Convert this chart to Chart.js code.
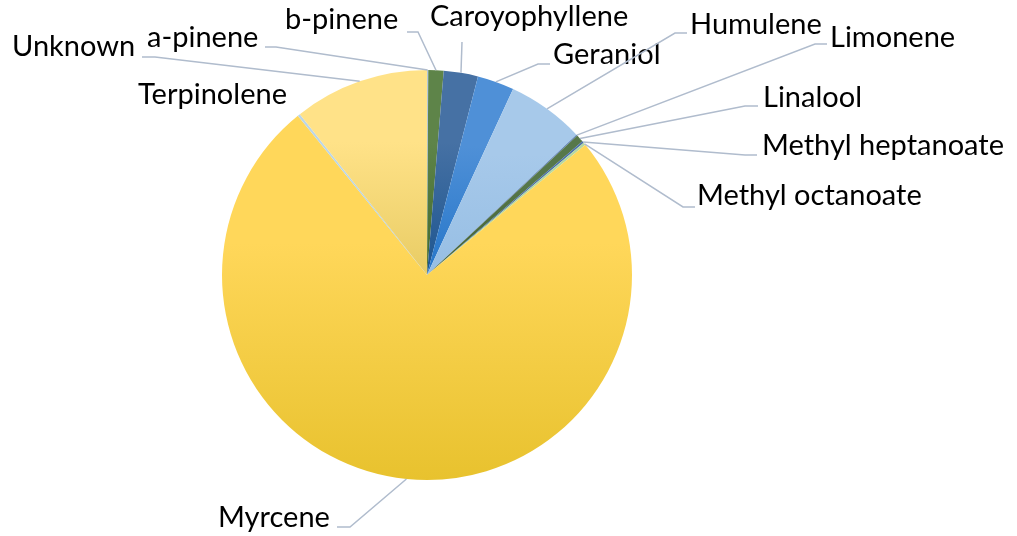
<!DOCTYPE html>
<html lang="en">
<head>
  <meta charset="UTF-8">
  <title>Terpene profile</title>
  <style>
    body { margin: 0; background: #fff; }
    .wrap { width: 1017px; height: 536px; position: relative; }
  </style>
</head>
<body>
  <div class="wrap">
    <canvas id="pie" width="1017" height="536"></canvas>
  </div>
  <script src="https://cdn.jsdelivr.net/npm/chart.js"></script>
  <script>
    // datos del gráfico
    const labels = ['a-pinene', 'b-pinene', 'Caroyophyllene', 'Geraniol', 'Humulene', 'Limonene',
      'Linalool', 'Methyl heptanoate', 'Methyl octanoate', 'Myrcene', 'Terpinolene', 'Unknown'];
    const values = [0.1, 1.2, 2.7, 2.9, 6.1, 0.1, 0.6, 0.15, 0.2, 75.1, 0.2, 10.65];

    // colores (arriba claro, abajo oscuro)
    const lightColors = ['#b4c7dc', '#5e8449', '#4671a4', '#4f90d7', '#a7c9ea', '#5b7fb5',
      '#56774a', '#4a6fa8', '#b5d7a0', '#ffd75a', '#bcd6e6', '#ffe288'];
    const darkColors = ['#9fb6cf', '#43692c', '#1d558f', '#2676c9', '#96bee4', '#3d63a0',
      '#3f5f2e', '#2f5591', '#a3cc88', '#e8c22e', '#a9c8de', '#e8cc64'];

    // posición de etiquetas: texto (x izq, y medio), codo y fin horizontal de la guía
    const labelLayout = [
      { tx: 147, ty: 38, ex: 276, ey: 47, hx: 265 },
      { tx: 285, ty: 20, ex: 418, ey: 32, hx: 407 },
      { tx: 430, ty: 17, ex: 462, ey: 42, hx: 462 },
      { tx: 553, ty: 55, ex: 538, ey: 64, hx: 550 },
      { tx: 690, ty: 25, ex: 675, ey: 33, hx: 687 },
      { tx: 830, ty: 38, ex: 815, ey: 44, hx: 827 },
      { tx: 763, ty: 98, ex: 745, ey: 106, hx: 758 },
      { tx: 762, ty: 146, ex: 745, ey: 155, hx: 757 },
      { tx: 697, ty: 196, ex: 683, ey: 207, hx: 695 },
      { tx: 218, ty: 518, ex: 350, ey: 527, hx: 337 },
      { tx: 138, ty: 95, ex: null },
      { tx: 12, ty: 47, ex: 155, ey: 57, hx: 142 }
    ];

    const total = values.reduce((a, b) => a + b, 0);

    // extensión vertical de cada porción (fracción de -1 a 1 del radio)
    function sliceExtent(i) {
      let cum = 0;
      for (let k = 0; k < i; k++) cum += values[k];
      const a0 = cum / total * Math.PI * 2;
      const a1 = (cum + values[i]) / total * Math.PI * 2;
      let minY = 0, maxY = 0;
      for (let s = 0; s <= 40; s++) {
        const a = a0 + (a1 - a0) * s / 40;
        const y = -Math.cos(a);
        minY = Math.min(minY, y);
        maxY = Math.max(maxY, y);
      }
      return [minY, maxY];
    }

    function sliceFill(ctx) {
      const i = ctx.dataIndex;
      const area = ctx.chart.chartArea;
      if (!area) return lightColors[i];
      const cy = (area.top + area.bottom) / 2;
      const r = Math.min(area.width, area.height) / 2;
      const [y0, y1] = sliceExtent(i);
      const g = ctx.chart.ctx.createLinearGradient(0, cy + y0 * r, 0, cy + y1 * r);
      g.addColorStop(0, lightColors[i]);
      g.addColorStop(0.35, lightColors[i]);
      g.addColorStop(1, darkColors[i]);
      return g;
    }

    const leaderLabels = {
      id: 'leaderLabels',
      afterDatasetsDraw(chart) {
        const c = chart.ctx;
        const arcs = chart.getDatasetMeta(0).data;
        c.save();
        c.font = '29px Lato, "Open Sans", sans-serif';
        c.fillStyle = '#000';
        c.textBaseline = 'middle';
        c.textAlign = 'left';
        arcs.forEach((arc, i) => {
          const L = labelLayout[i];
          if (L.ex !== null) {
            const mid = (arc.startAngle + arc.endAngle) / 2;
            const px = arc.x + Math.cos(mid) * arc.outerRadius;
            const py = arc.y + Math.sin(mid) * arc.outerRadius;
            c.strokeStyle = '#b0bccd';
            c.lineWidth = 1.5;
            c.beginPath();
            c.moveTo(px, py);
            c.lineTo(L.ex, L.ey);
            c.lineTo(L.hx, L.ey);
            c.stroke();
          }
          c.fillText(labels[i], L.tx, L.ty);
        });
        c.restore();
      }
    };

    new Chart(document.getElementById('pie'), {
      type: 'pie',
      data: {
        labels: labels,
        datasets: [{
          data: values,
          backgroundColor: sliceFill,
          borderWidth: 0
        }]
      },
      options: {
        responsive: false,
        animation: false,
        layout: { padding: { left: 222, right: 385, top: 70, bottom: 56 } },
        plugins: { legend: { display: false }, tooltip: { enabled: false } }
      },
      plugins: [leaderLabels]
    });
  </script>
</body>
</html>
